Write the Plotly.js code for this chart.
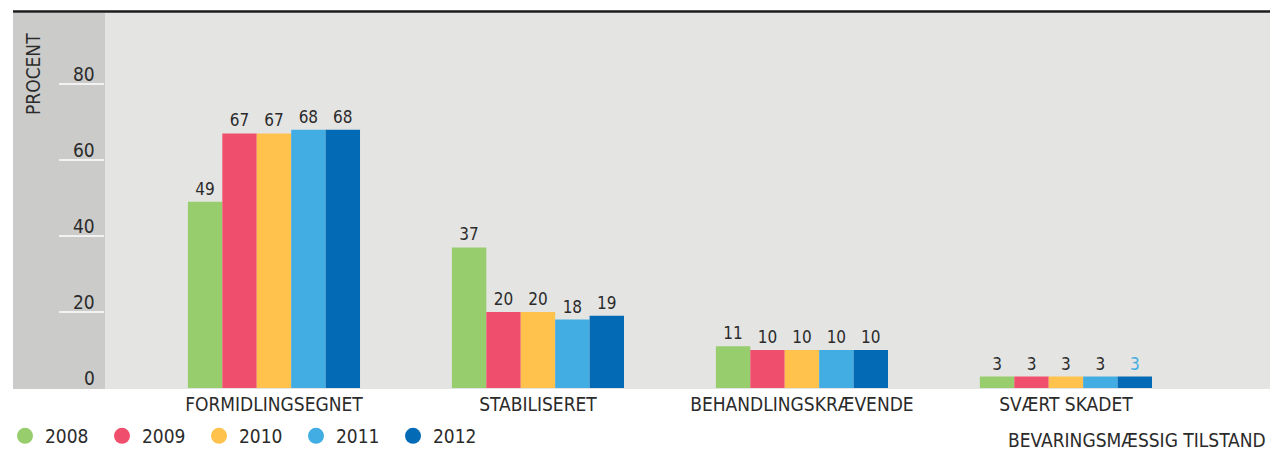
<!DOCTYPE html>
<html>
<head>
<meta charset="utf-8">
<script src="https://cdn.plot.ly/plotly-3.0.1.min.js"></script>
<style>
html,body{margin:0;padding:0;background:#fff;}
#chart{width:1270px;height:452px;}
</style>
</head>
<body>
<div id="chart"></div>
<script>
var categories = ["FORMIDLINGSEGNET", "STABILISERET", "BEHANDLINGSKRÆVENDE", "SVÆRT SKADET"];
var years = ["2008", "2009", "2010", "2011", "2012"];
var v2008 = [49, 37, 11, 3];
var v2009 = [67, 20, 10, 3];
var v2010 = [67, 20, 10, 3];
var v2011 = [68, 18, 10, 3];
var v2012 = [68, 19, 10, 3];
var yTicks = [0, 20, 40, 60, 80];
var yTitle = "PROCENT";
var xTitle = "BEVARINGSMÆSSIG TILSTAND";

var series = [v2008, v2009, v2010, v2011, v2012];
var colors = ["#97cd6d", "#f04e6d", "#fec24d", "#42ade2", "#036bb5"];
var FONT = "'DejaVu Sans Condensed', 'Liberation Sans Narrow', 'Liberation Sans', sans-serif";
var TXT = "#2b2b2b";

var traces = [];
series.forEach(function (vals, i) {
  var tcol = vals.map(function () { return TXT; });
  if (i === series.length - 1) tcol[tcol.length - 1] = colors[3];
  traces.push({
    type: "bar", x: categories, y: vals, name: years[i],
    marker: {color: colors[i]}, showlegend: false,
    text: vals.map(String), textposition: "outside", cliponaxis: false,
    textfont: {family: FONT, size: 17, color: tcol},
    hoverinfo: "x+y+name"
  });
});
years.forEach(function (yr, i) {
  traces.push({
    type: "scatter", mode: "markers", x: [null], y: [null], name: yr,
    marker: {color: colors[i], size: 18, symbol: "circle"}, showlegend: true
  });
});

var W = 1165; // plot width in px
var H = 376;  // plot height in px
var panelLeft = (13 - 105) / W;
var shapes = [
  {type: "rect", xref: "paper", yref: "paper", x0: panelLeft, x1: 0, y0: 0, y1: 1,
   fillcolor: "#cbcbca", line: {width: 0}, layer: "below"},
  {type: "line", xref: "paper", yref: "paper", x0: panelLeft, x1: 1, y0: 1.004, y1: 1.004,
   line: {color: "#1a1a1a", width: 2.5}}
];
var annotations = [];
yTicks.forEach(function (t) {
  if (t > 0) {
    shapes.push({type: "line", xref: "paper", yref: "y", x0: (59 - 105) / W, x1: -1 / W, y0: t, y1: t,
      line: {color: "#ffffff", width: 1.5}});
  }
  annotations.push({xref: "paper", yref: "y", x: (97 - 105) / W, y: t, text: String(t),
    xanchor: "right", yanchor: "bottom", yshift: -3, showarrow: false,
    font: {family: FONT, size: 19, color: TXT}});
});
annotations.push({xref: "paper", yref: "paper", x: (33 - 105) / W, y: (389 - 74) / H,
  text: yTitle, textangle: -90, showarrow: false, xanchor: "center", yanchor: "middle",
  font: {family: FONT, size: 19, color: TXT}});
annotations.push({xref: "paper", yref: "paper", x: 1, y: -(440 - 389) / H, xshift: -2,
  text: xTitle, showarrow: false, xanchor: "right", yanchor: "middle",
  font: {family: FONT, size: 19, color: TXT}});

var layout = {
  width: 1270, height: 452,
  margin: {l: 105, r: 0, t: 13, b: 63, pad: 0, autoexpand: false},
  paper_bgcolor: "#ffffff", plot_bgcolor: "#e4e4e3",
  barmode: "group", bargap: 0.348, bargroupgap: 0,
  xaxis: {type: "category", range: [-0.64, 3.773], showgrid: false, zeroline: false,
    showline: false, ticks: "", ticklabelstandoff: 2,
    tickfont: {family: FONT, size: 19, color: TXT}, fixedrange: true},
  yaxis: {range: [-0.26, 98.7], showgrid: false, zeroline: false, showline: false,
    showticklabels: false, ticks: "", fixedrange: true},
  showlegend: true,
  legend: {orientation: "h", x: (5 - 105) / W, xanchor: "left", y: -(436 - 389) / H, yanchor: "middle",
    font: {family: FONT, size: 19, color: TXT}, bgcolor: "rgba(0,0,0,0)",
    entrywidth: 52, entrywidthmode: "pixels", itemsizing: "trace"},
  shapes: shapes, annotations: annotations,
  font: {family: FONT, color: TXT}
};

Plotly.newPlot("chart", traces, layout, {displayModeBar: false, staticPlot: true});
</script>
</body>
</html>
